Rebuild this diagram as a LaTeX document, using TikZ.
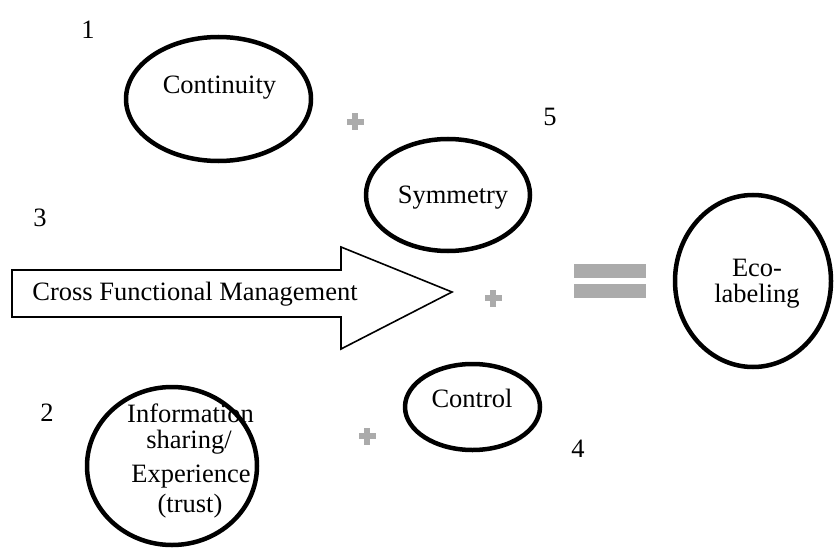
\documentclass[tikz,border=0pt]{standalone}
\usepackage{fontspec}
\setmainfont{Liberation Serif}
\usetikzlibrary{shapes.geometric}
\definecolor{pgray}{HTML}{ABABAB}
\tikzset{
  oval/.style={draw, ellipse, line width=4.5pt, inner sep=0pt},
  txt/.style={inner sep=0pt, anchor=base, font=\fontsize{26.5}{26.5}\selectfont},
  num/.style={inner sep=0pt, anchor=base, font=\fontsize{26.5}{26.5}\selectfont},
  bigarrow/.style={draw, line width=1.6pt, fill=white, line join=miter},
  plusmark/.pic={
    \fill[pgray] (-8.5,-3) rectangle (8.5,3);
    \fill[pgray] (-3,-8.5) rectangle (3,8.5);
  }
}
\begin{document}
\begin{tikzpicture}[x=1pt, y=-1pt]
\useasboundingbox (0,0) rectangle (834,548);

% ovals
\node[oval, minimum width=185pt, minimum height=124pt] (cont) at (218.5,99) {};
\node[oval, minimum width=164pt, minimum height=112pt] (symm) at (448,195) {};
\node[oval, minimum width=135pt, minimum height=86pt] (ctrl) at (472.5,407) {};
\node[oval, minimum width=170pt, minimum height=158pt] (info) at (172,466) {};
\node[oval, minimum width=156pt, minimum height=172pt] (eco) at (753,281) {};

% labels inside the ovals
\node[txt] (contT) at (219.5,94) {Continuity};
\node[txt] (symmT) at (453,203) {Symmetry};
\node[txt] (ctrlT) at (472,407) {Control};
\node[txt] (info1) at (190.5,422) {Information};
\node[txt] (info2) at (189,448) {sharing/};
\node[txt] (info3) at (191,482) {Experience};
\node[txt] (info4) at (190,512) {(trust)};
\node[txt] (eco1) at (757,276) {Eco-};
\node[txt] (eco2) at (757,302) {labeling};

% block arrow
\draw[bigarrow] (12,270) -- (341,270) -- (341,247) -- (452,292)
  -- (341,349) -- (341,317) -- (12,317) -- cycle;
\node[txt] (cfm) at (195,300) {Cross Functional Management};

% plus signs
\pic at (355,122) {plusmark};
\pic at (493,298) {plusmark};
\pic at (367,436) {plusmark};

% equals sign
\fill[pgray] (574,264) rectangle (646,278);
\fill[pgray] (574,284) rectangle (646,298);

% numbers
\node[num] (n1) at (88,39) {1};
\node[num] (n2) at (47,421) {2};
\node[num] (n3) at (40,226) {3};
\node[num] (n4) at (578,457) {4};
\node[num] (n5) at (550,126) {5};
\end{tikzpicture}
\end{document}
